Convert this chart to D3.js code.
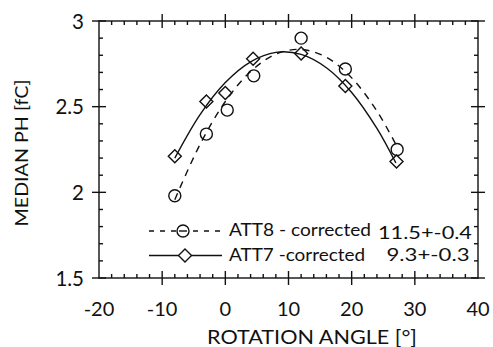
<!DOCTYPE html>
<html><head><meta charset="utf-8">
<script src="https://cdn.jsdelivr.net/npm/d3@7/dist/d3.min.js"></script>
<style>body{margin:0;background:#fff}svg{display:block}text{font-family:Lato,"Open Sans",sans-serif;fill:#111}</style>
</head><body>
<script>
// data
const att8Angle = [-8, -3, 0.3, 4.5, 12, 19, 27.2];
const att8PH    = [1.98, 2.34, 2.48, 2.68, 2.90, 2.72, 2.25];
const att7Angle = [-8, -3, 0, 4.4, 12, 19, 27.1];
const att7PH    = [2.21, 2.53, 2.58, 2.78, 2.81, 2.62, 2.18];
// fitted curves as drawn in the reference
const fitAngle = [-8, -4, 0, 4, 8, 12, 16, 20, 24, 27];
const fit8PH   = [1.957, 2.28, 2.53, 2.705, 2.807, 2.834, 2.788, 2.668, 2.474, 2.28];
const fit7PH   = [2.20, 2.454, 2.641, 2.762, 2.817, 2.805, 2.727, 2.583, 2.373, 2.171];
const xTicks = [-20, -10, 0, 10, 20, 30, 40];
const yTicks = [1.5, 2, 2.5, 3];
const legendLabels = ["ATT8 - corrected", "ATT7 -corrected"];
const legendValues = ["11.5+-0.4", "9.3+-0.3"];

const W = 493, H = 347;
const svg = d3.select("body").append("svg").attr("width", W).attr("height", H);
const x = d3.scaleLinear().domain([-20, 40]).range([99, 478]);
const y = d3.scaleLinear().domain([1.5, 3]).range([278, 21]);
const stroke = "#111";

const g = svg.append("g").attr("stroke", stroke).attr("stroke-width", 1.4).attr("fill", "none");
// frame
g.append("rect").attr("x", x(-20)).attr("y", y(3)).attr("width", x(40) - x(-20)).attr("height", y(1.5) - y(3));

// ticks
const xMinor = d3.range(-20, 40.01, 2);
const yMinor = d3.range(1.5, 3.001, 0.1);
xMinor.forEach(v => {
  const major = Math.abs(v % 10) < 1e-6;
  const up = major ? 7 : 4, dn = major ? 7 : 0;
  if (v > -20 && v < 40) {
    g.append("line").attr("x1", x(v)).attr("x2", x(v)).attr("y1", y(1.5) - up).attr("y2", y(1.5) + dn);
    g.append("line").attr("x1", x(v)).attr("x2", x(v)).attr("y1", y(3) + up).attr("y2", y(3) - dn);
  }
});
yMinor.forEach(v => {
  const major = Math.abs((v * 2) - Math.round(v * 2)) < 1e-6;
  const ins = major ? 7 : 4, out = major ? 7 : 0;
  g.append("line").attr("x1", x(-20) - out).attr("x2", x(-20) + ins).attr("y1", y(v)).attr("y2", y(v));
  g.append("line").attr("x1", x(40) + out).attr("x2", x(40) - ins).attr("y1", y(v)).attr("y2", y(v));
});

// tick labels
svg.append("g").selectAll("text").data(xTicks).join("text")
  .attr("x", d => x(d)).attr("y", 316).attr("text-anchor", "middle")
  .attr("font-size", 20).text(d => d);
svg.append("g").selectAll("text").data(yTicks).join("text")
  .attr("x", 84).attr("y", d => y(d) + 7.5).attr("text-anchor", "end")
  .attr("font-size", 20.5).text(d => d);

// axis titles
svg.append("text").attr("x", 312).attr("y", 344).attr("text-anchor", "middle")
  .attr("font-size", 20).attr("textLength", 210).attr("lengthAdjust", "spacingAndGlyphs")
  .text("ROTATION ANGLE [°]");
svg.append("text").attr("transform", "translate(28,153) rotate(-90)").attr("text-anchor", "middle")
  .attr("font-size", 18).attr("textLength", 147).attr("lengthAdjust", "spacingAndGlyphs")
  .text("MEDIAN PH [fC]");

// fit curves
const line = d3.line().x(d => x(d[0])).y(d => y(d[1])).curve(d3.curveCatmullRom);
g.append("path").attr("d", line(fitAngle.map((a, i) => [a, fit8PH[i]]))).attr("stroke-dasharray", "7,6");
g.append("path").attr("d", line(fitAngle.map((a, i) => [a, fit7PH[i]])));

// markers
const diamond = (cx, cy, r) => `M${cx},${cy - r}L${cx + r},${cy}L${cx},${cy + r}L${cx - r},${cy}Z`;
g.append("g").selectAll("circle").data(att8Angle.map((a, i) => [a, att8PH[i]])).join("circle")
  .attr("cx", d => x(d[0])).attr("cy", d => y(d[1])).attr("r", 6);
g.append("g").selectAll("path").data(att7Angle.map((a, i) => [a, att7PH[i]])).join("path")
  .attr("d", d => diamond(x(d[0]), y(d[1]), 6.5));

// legend
const ly = [231, 255.5];
g.append("line").attr("x1", 149).attr("x2", 222).attr("y1", ly[0]).attr("y2", ly[0]).attr("stroke-dasharray", "5,6");
g.append("circle").attr("cx", 183).attr("cy", ly[0]).attr("r", 6).attr("fill", "#fff");
g.append("line").attr("x1", 179).attr("x2", 187).attr("y1", ly[0]).attr("y2", ly[0]);
g.append("line").attr("x1", 149).attr("x2", 222).attr("y1", ly[1]).attr("y2", ly[1]);
g.append("path").attr("d", diamond(185, ly[1], 6.5)).attr("fill", "#fff");
svg.append("text").attr("x", 229).attr("y", 236).attr("font-size", 17)
  .attr("textLength", 142).attr("lengthAdjust", "spacingAndGlyphs").text(legendLabels[0]);
svg.append("text").attr("x", 229).attr("y", 261).attr("font-size", 17)
  .attr("textLength", 136).attr("lengthAdjust", "spacingAndGlyphs").text(legendLabels[1]);
svg.append("text").attr("x", 378).attr("y", 239).attr("font-size", 17)
  .attr("textLength", 94).attr("lengthAdjust", "spacingAndGlyphs").text(legendValues[0]);
svg.append("text").attr("x", 386.5).attr("y", 261).attr("font-size", 17)
  .attr("textLength", 83).attr("lengthAdjust", "spacingAndGlyphs").text(legendValues[1]);
</script>
</body></html>
